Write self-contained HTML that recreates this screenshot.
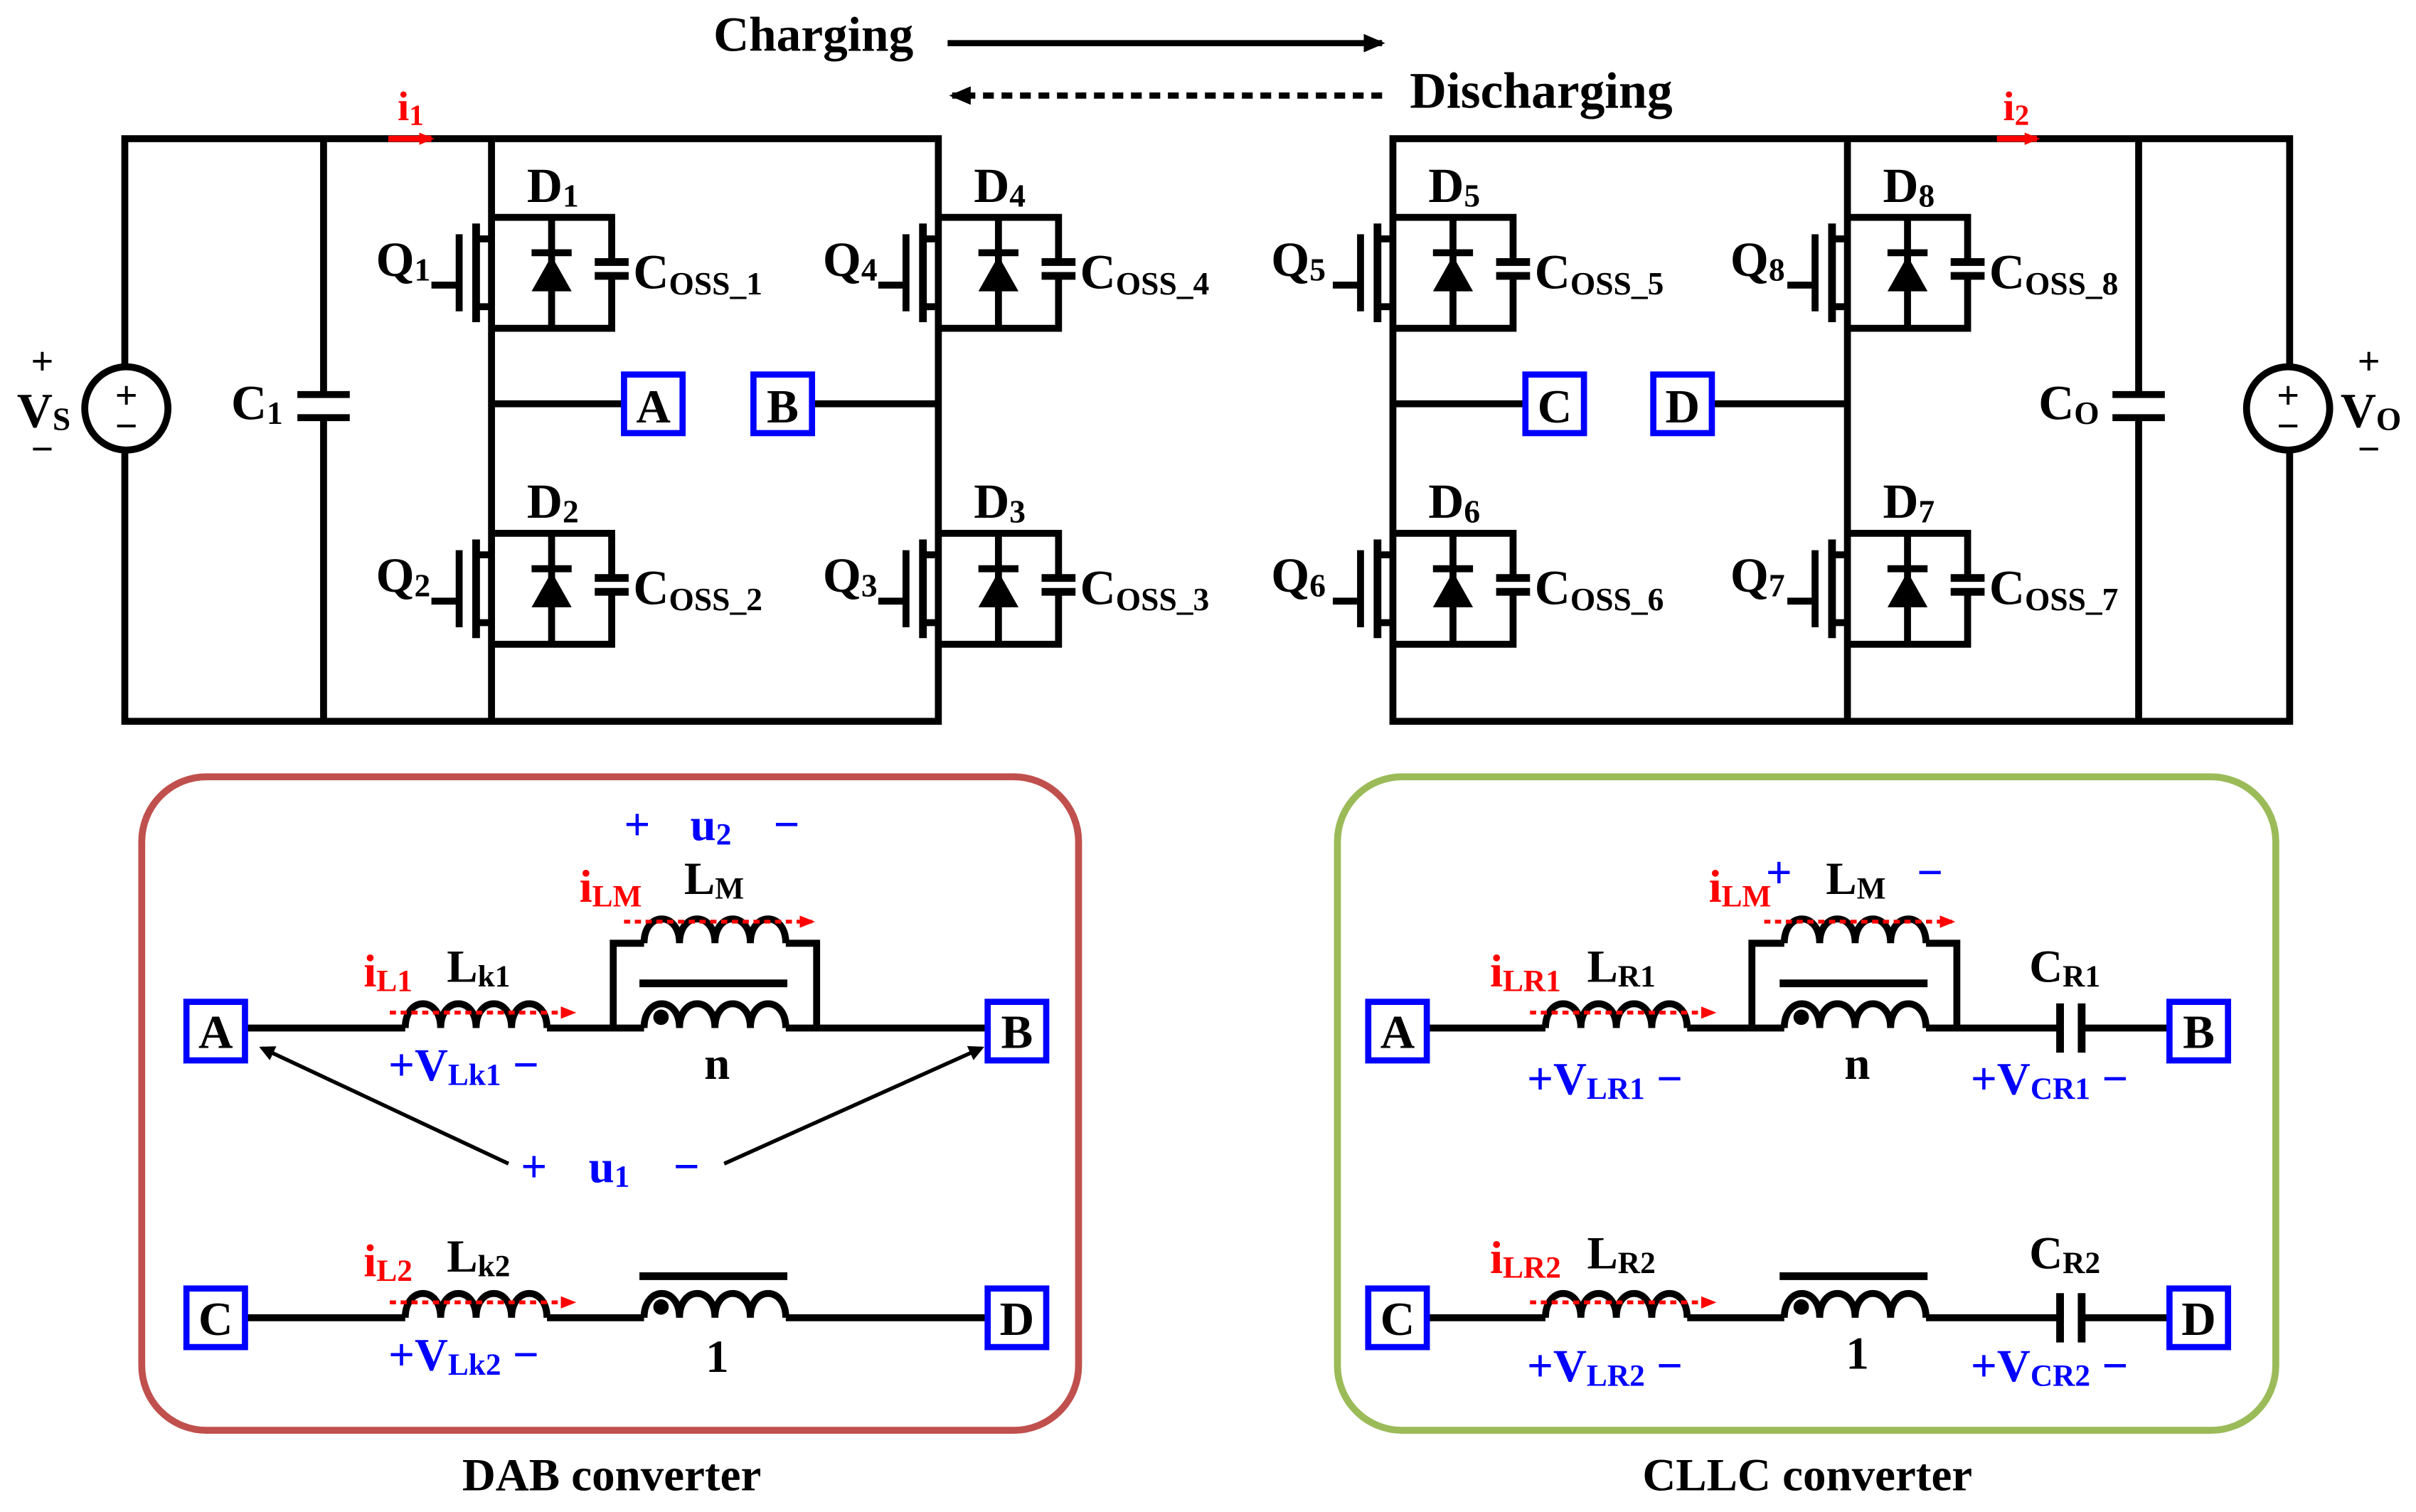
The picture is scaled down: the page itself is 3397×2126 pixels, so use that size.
<!DOCTYPE html>
<html><head><meta charset="utf-8"><style>html,body{margin:0;padding:0;background:#fff}svg{display:block}text{font-family:"Liberation Serif",serif;font-weight:bold}</style></head>
<body>
<svg width="3397" height="2126" viewBox="0 0 1568 981" preserveAspectRatio="none" xmlns="http://www.w3.org/2000/svg">
<defs>
<g id="sw" fill="none" stroke="#000" stroke-width="4.5">
<path d="M0 0H78V29M78 38V72H0"/>
<path d="M67 29H89M67 38H89" stroke-width="5"/>
<path d="M39 0V72M26 23H52"/>
<polygon points="39,25 26,48 52,48" fill="#000" stroke="none"/>
<path d="M-10 4V68" stroke-width="5"/>
<path d="M-21 11V61M-39 44H-21M-10 14H0M-10 58H0"/>
</g>
<g id="ind" fill="none" stroke="#000" stroke-width="4.5"><path d="M0 0c0 -21 23 -21 23 0c0 -21 23 -21 23 0c0 -21 23 -21 23 0c0 -21 23 -21 23 0"/></g>
<marker id="ah" markerWidth="10" markerHeight="10" refX="8" refY="5" orient="auto" markerUnits="userSpaceOnUse"><path d="M0 0L10 5L0 10z" fill="#000"/></marker>
<marker id="ahr" markerWidth="10" markerHeight="10" refX="8" refY="5" orient="auto" markerUnits="userSpaceOnUse"><path d="M0 1L10 5L0 9z" fill="red"/></marker>
<marker id="ahb" markerWidth="14" markerHeight="12" refX="12" refY="6" orient="auto" markerUnits="userSpaceOnUse"><path d="M0 0L14 6L0 12z" fill="#000"/></marker>
</defs>

<text x="463" y="33" font-size="32">Charging</text>
<line x1="615" y1="28" x2="897" y2="28" stroke="#000" stroke-width="4" marker-end="url(#ahb)"/>
<line x1="897" y1="62" x2="618" y2="62" stroke="#000" stroke-width="4" stroke-dasharray="7 5" marker-end="url(#ahb)"/>
<text x="915" y="70" font-size="33">Discharging</text>

<g fill="none" stroke="#000" stroke-width="4.5">
<path d="M81 90H609V468H81Z"/>
<path d="M210 90V256M210 271V468M193 256H227M193 271H227"/>
<path d="M319 90V468M319 262H405M527 262H609"/>
<path d="M904 90H1486V468H904Z"/>
<path d="M1388 90V256M1388 271V468M1371 256H1405M1371 271H1405"/>
<path d="M1199 90V468M904 262H990M1111 262H1199"/>
</g>
<rect x="405" y="243" width="38" height="38" fill="#fff" stroke="#00f" stroke-width="4"/>
<rect x="489" y="243" width="38" height="38" fill="#fff" stroke="#00f" stroke-width="4"/>
<rect x="990" y="243" width="38" height="38" fill="#fff" stroke="#00f" stroke-width="4"/>
<rect x="1073" y="243" width="38" height="38" fill="#fff" stroke="#00f" stroke-width="4"/>
<text x="424" y="274" font-size="31" text-anchor="middle">A</text>
<text x="508" y="274" font-size="31" text-anchor="middle">B</text>
<text x="1009" y="274" font-size="31" text-anchor="middle">C</text>
<text x="1092" y="274" font-size="31" text-anchor="middle">D</text>

<circle cx="82" cy="265" r="27" fill="#fff" stroke="#000" stroke-width="4.5"/>
<text x="82" y="265" font-size="26" text-anchor="middle" font-weight="normal">+</text>
<text x="82" y="285" font-size="26" text-anchor="middle" font-weight="normal">−</text>
<circle cx="1485" cy="265" r="27" fill="#fff" stroke="#000" stroke-width="4.5"/>
<text x="1485" y="265" font-size="26" text-anchor="middle" font-weight="normal">+</text>
<text x="1485" y="285" font-size="26" text-anchor="middle" font-weight="normal">−</text>
<text x="20" y="243" font-size="26">+</text>
<text x="11" y="277" font-size="32">V<tspan font-size="21" dy="2">S</tspan></text>
<text x="20" y="300" font-size="26">−</text>
<text x="1530" y="243" font-size="26">+</text>
<text x="1519" y="277" font-size="32">V<tspan font-size="21" dy="2">O</tspan></text>
<text x="1530" y="300" font-size="26">−</text>
<text x="150" y="272" font-size="32">C<tspan font-size="21" dy="3">1</tspan></text>
<text x="1323" y="272" font-size="32">C<tspan font-size="21" dy="3">O</tspan></text>

<text x="258" y="78" font-size="27" fill="red">i<tspan font-size="19" dy="3">1</tspan></text>
<line x1="252" y1="90" x2="280" y2="90" stroke="red" stroke-width="4" marker-end="url(#ahr)"/>
<text x="1300" y="78" font-size="27" fill="red">i<tspan font-size="19" dy="3">2</tspan></text>
<line x1="1296" y1="90" x2="1322" y2="90" stroke="red" stroke-width="4" marker-end="url(#ahr)"/>

<use href="#sw" transform="translate(319,141)"/>
<use href="#sw" transform="translate(319,346)"/>
<use href="#sw" transform="translate(609,141)"/>
<use href="#sw" transform="translate(609,346)"/>
<use href="#sw" transform="translate(904,141)"/>
<use href="#sw" transform="translate(904,346)"/>
<use href="#sw" transform="translate(1199,141)"/>
<use href="#sw" transform="translate(1199,346)"/>
<g font-size="32">
<text x="244" y="179">Q<tspan font-size="21" dy="3">1</tspan></text>
<text x="342" y="131">D<tspan font-size="21" dy="3">1</tspan></text>
<text x="411" y="187">C<tspan font-size="21" dy="4">OSS_1</tspan></text>
<text x="244" y="384">Q<tspan font-size="21" dy="3">2</tspan></text>
<text x="342" y="336">D<tspan font-size="21" dy="3">2</tspan></text>
<text x="411" y="392">C<tspan font-size="21" dy="4">OSS_2</tspan></text>
<text x="534" y="179">Q<tspan font-size="21" dy="3">4</tspan></text>
<text x="632" y="131">D<tspan font-size="21" dy="3">4</tspan></text>
<text x="701" y="187">C<tspan font-size="21" dy="4">OSS_4</tspan></text>
<text x="534" y="384">Q<tspan font-size="21" dy="3">3</tspan></text>
<text x="632" y="336">D<tspan font-size="21" dy="3">3</tspan></text>
<text x="701" y="392">C<tspan font-size="21" dy="4">OSS_3</tspan></text>
<text x="825" y="179">Q<tspan font-size="21" dy="3">5</tspan></text>
<text x="927" y="131">D<tspan font-size="21" dy="3">5</tspan></text>
<text x="996" y="187">C<tspan font-size="21" dy="4">OSS_5</tspan></text>
<text x="825" y="384">Q<tspan font-size="21" dy="3">6</tspan></text>
<text x="927" y="336">D<tspan font-size="21" dy="3">6</tspan></text>
<text x="996" y="392">C<tspan font-size="21" dy="4">OSS_6</tspan></text>
<text x="1123" y="179">Q<tspan font-size="21" dy="3">8</tspan></text>
<text x="1222" y="131">D<tspan font-size="21" dy="3">8</tspan></text>
<text x="1291" y="187">C<tspan font-size="21" dy="4">OSS_8</tspan></text>
<text x="1123" y="384">Q<tspan font-size="21" dy="3">7</tspan></text>
<text x="1222" y="336">D<tspan font-size="21" dy="3">7</tspan></text>
<text x="1291" y="392">C<tspan font-size="21" dy="4">OSS_7</tspan></text>
</g>

<rect x="92" y="504" width="608" height="424" rx="42" fill="none" stroke="#c0504d" stroke-width="4.5"/>
<rect x="868" y="504" width="609" height="424" rx="42" fill="none" stroke="#9bbb59" stroke-width="4.5"/>
<text x="397" y="967" font-size="30" text-anchor="middle">DAB converter</text>
<text x="1173" y="967" font-size="30" text-anchor="middle">CLLC converter</text>

<g fill="none" stroke="#000" stroke-width="4.5">
<path d="M159 667H263M355 667H418M510 667H641"/>
<path d="M398 667V612H418M510 612H530V667"/>
<path d="M415 638H511" stroke-width="5"/>
<path d="M159 855H263M355 855H418M510 855H641"/>
<path d="M415 828H511" stroke-width="5"/>
</g>
<use href="#ind" transform="translate(263,667)"/>
<use href="#ind" transform="translate(418,612)"/>
<use href="#ind" transform="translate(418,667)"/>
<use href="#ind" transform="translate(263,855)"/>
<use href="#ind" transform="translate(418,855)"/>
<circle cx="429" cy="660" r="5" fill="#000"/>
<circle cx="429" cy="848" r="5" fill="#000"/>
<g stroke="red" stroke-width="2.5" stroke-dasharray="4 3" fill="none">
<line x1="253" y1="657" x2="372" y2="657" marker-end="url(#ahr)"/>
<line x1="405" y1="598" x2="527" y2="598" marker-end="url(#ahr)"/>
<line x1="253" y1="845" x2="372" y2="845" marker-end="url(#ahr)"/>
</g>
<g fill="#fff" stroke="#00f" stroke-width="4">
<rect x="121" y="650" width="38" height="38"/><rect x="641" y="650" width="38" height="38"/>
<rect x="121" y="836" width="38" height="38"/><rect x="641" y="836" width="38" height="38"/>
</g>
<g font-size="31" text-anchor="middle">
<text x="140" y="680">A</text><text x="660" y="680">B</text>
<text x="140" y="866">C</text><text x="660" y="866">D</text>
</g>
<line x1="330" y1="755" x2="170" y2="680" stroke="#000" stroke-width="2.5" marker-end="url(#ah)"/>
<line x1="470" y1="755" x2="637" y2="680" stroke="#000" stroke-width="2.5" marker-end="url(#ah)"/>
<g font-size="30">
<text x="236" y="640" fill="red">i<tspan font-size="20" dy="3">L1</tspan></text>
<text x="290" y="637">L<tspan font-size="20" dy="3">k1</tspan></text>
<text x="252" y="701" fill="#00f">+V<tspan font-size="20" dy="3">Lk1</tspan><tspan dy="-3"> −</tspan></text>
<text x="457" y="700">n</text>
<text x="376" y="585" fill="red">i<tspan font-size="20" dy="3">LM</tspan></text>
<text x="444" y="580">L<tspan font-size="20" dy="3">M</tspan></text>
<text x="405" y="545" fill="#00f">+</text>
<text x="448" y="545" fill="#00f">u<tspan font-size="20" dy="3">2</tspan></text>
<text x="502" y="545" fill="#00f">−</text>
<text x="338" y="767" fill="#00f">+</text>
<text x="382" y="767" fill="#00f">u<tspan font-size="20" dy="3">1</tspan></text>
<text x="437" y="767" fill="#00f">−</text>
<text x="236" y="828" fill="red">i<tspan font-size="20" dy="3">L2</tspan></text>
<text x="290" y="825">L<tspan font-size="20" dy="3">k2</tspan></text>
<text x="252" y="889" fill="#00f">+V<tspan font-size="20" dy="3">Lk2</tspan><tspan dy="-3"> −</tspan></text>
<text x="458" y="890">1</text>
</g>

<g fill="none" stroke="#000" stroke-width="4.5">
<path d="M926 667H1003M1095 667H1158M1250 667H1337M1351 667H1408"/>
<path d="M1137 667V612H1158M1250 612H1270V667"/>
<path d="M1155 638H1251" stroke-width="5"/>
<path d="M926 855H1003M1095 855H1158M1250 855H1337M1351 855H1408"/>
<path d="M1155 828H1251" stroke-width="5"/>
<path d="M1337 651V683M1351 651V683M1337 839V871M1351 839V871" stroke-width="5"/>
</g>
<use href="#ind" transform="translate(1003,667)"/>
<use href="#ind" transform="translate(1158,612)"/>
<use href="#ind" transform="translate(1158,667)"/>
<use href="#ind" transform="translate(1003,855)"/>
<use href="#ind" transform="translate(1158,855)"/>
<circle cx="1169" cy="660" r="5" fill="#000"/>
<circle cx="1169" cy="848" r="5" fill="#000"/>
<g stroke="red" stroke-width="2.5" stroke-dasharray="4 3" fill="none">
<line x1="993" y1="657" x2="1112" y2="657" marker-end="url(#ahr)"/>
<line x1="1145" y1="598" x2="1267" y2="598" marker-end="url(#ahr)"/>
<line x1="993" y1="845" x2="1112" y2="845" marker-end="url(#ahr)"/>
</g>
<g fill="#fff" stroke="#00f" stroke-width="4">
<rect x="888" y="650" width="38" height="38"/><rect x="1408" y="650" width="38" height="38"/>
<rect x="888" y="836" width="38" height="38"/><rect x="1408" y="836" width="38" height="38"/>
</g>
<g font-size="31" text-anchor="middle">
<text x="907" y="680">A</text><text x="1427" y="680">B</text>
<text x="907" y="866">C</text><text x="1427" y="866">D</text>
</g>
<g font-size="30">
<text x="967" y="640" fill="red">i<tspan font-size="20" dy="3">LR1</tspan></text>
<text x="1030" y="637">L<tspan font-size="20" dy="3">R1</tspan></text>
<text x="1317" y="637">C<tspan font-size="20" dy="3">R1</tspan></text>
<text x="991" y="710" fill="#00f">+V<tspan font-size="20" dy="3">LR1</tspan><tspan dy="-3"> −</tspan></text>
<text x="1197" y="700">n</text>
<text x="1279" y="710" fill="#00f">+V<tspan font-size="20" dy="3">CR1</tspan><tspan dy="-3"> −</tspan></text>
<text x="1109" y="585" fill="red">i<tspan font-size="20" dy="3">LM</tspan></text>
<text x="1146" y="576" fill="#00f">+</text>
<text x="1185" y="580">L<tspan font-size="20" dy="3">M</tspan></text>
<text x="1244" y="576" fill="#00f">−</text>
<text x="967" y="826" fill="red">i<tspan font-size="20" dy="3">LR2</tspan></text>
<text x="1030" y="823">L<tspan font-size="20" dy="3">R2</tspan></text>
<text x="1317" y="823">C<tspan font-size="20" dy="3">R2</tspan></text>
<text x="991" y="896" fill="#00f">+V<tspan font-size="20" dy="3">LR2</tspan><tspan dy="-3"> −</tspan></text>
<text x="1198" y="888">1</text>
<text x="1279" y="896" fill="#00f">+V<tspan font-size="20" dy="3">CR2</tspan><tspan dy="-3"> −</tspan></text>
</g>
</svg>
</body></html>
